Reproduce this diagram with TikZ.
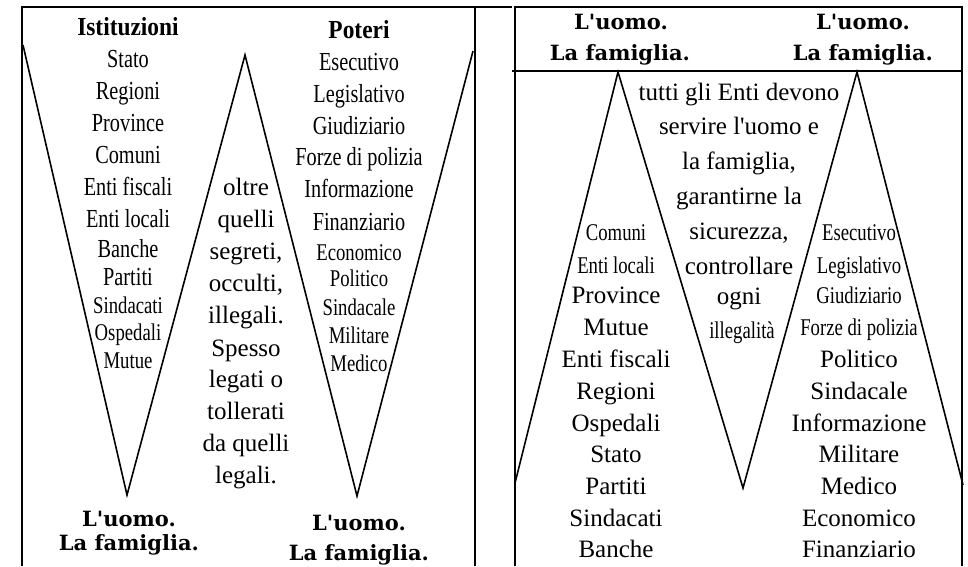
\documentclass[tikz,border=0pt]{standalone}
\usepackage{fontspec}
\setmainfont{Liberation Serif}[Ligatures=TeXOff]
\newfontfamily\condfont[FakeStretch=0.78]{Liberation Serif}
\newfontfamily\titlefont[FakeStretch=0.9]{Liberation Serif}
\newfontfamily\headfont{DejaVu Serif}
\usetikzlibrary{calc}

\tikzset{
	cond/.style={font=\condfont\fontsize{26}{26}\selectfont, inner sep=0pt, text height=17pt, text depth=0pt},
	condsmall/.style={font=\condfont\fontsize{24}{24}\selectfont, inner sep=0pt, text height=16pt, text depth=0pt},
	txt/.style={font=\fontsize{25}{25}\selectfont, inner sep=0pt, text height=16pt, text depth=0pt},
	title/.style={font=\titlefont\bfseries\fontsize{26}{26}\selectfont, inner sep=0pt, text height=17pt, text depth=0pt},
	head/.style={font=\headfont\bfseries\fontsize{21}{21}\selectfont, inner sep=0pt, text height=15pt, text depth=0pt},
	frame/.style={line width=1.8pt},
	zigzag/.style={line width=1.6pt, line join=miter},
}

\begin{document}
\begin{tikzpicture}[x=1pt, y=-1pt]
	\useasboundingbox (0,0) rectangle (968,566);

	% left panel
	\draw[frame] (22,566) -- (22,7) -- (512,7);
	\draw[frame] (475,7) -- (475,566);

	\coordinate (l1) at (23,45);
	\coordinate (l2) at (127,495);
	\coordinate (l3) at (245,55);
	\coordinate (l4) at (357,496);
	\coordinate (l5) at (473,51);
	\draw[zigzag] (l1) -- (l2) -- (l3) -- (l4) -- (l5);

	\node[title] (istituzioni) at (128,27) {Istituzioni};
	\node[cond] (istA) at (128,59) {Stato};
	\node[cond] (istB) at (128,91) {Regioni};
	\node[cond] (istC) at (128,123) {Province};
	\node[cond] (istD) at (128,155) {Comuni};
	\node[cond] (istE) at (128,187) {Enti fiscali};
	\node[cond] (istF) at (128,219) {Enti locali};
	\node[cond] (istG) at (128,249) {Banche};
	\node[cond] (istH) at (128,277) {Partiti};
	\node[condsmall] (istI) at (128,305) {Sindacati};
	\node[condsmall] (istJ) at (128,332) {Ospedali};
	\node[condsmall] (istK) at (128,360) {Mutue};

	\node[title] (poteri) at (359,30) {Poteri};
	\node[cond] (potA) at (359,62) {Esecutivo};
	\node[cond] (potB) at (359,94) {Legislativo};
	\node[cond] (potC) at (359,126) {Giudiziario};
	\node[cond] (potD) at (359,157) {Forze di polizia};
	\node[cond] (potE) at (359,189) {Informazione};
	\node[cond] (potF) at (359,222) {Finanziario};
	\node[condsmall] (potG) at (359,252) {Economico};
	\node[condsmall] (potH) at (359,278) {Politico};
	\node[condsmall] (potI) at (359,307) {Sindacale};
	\node[condsmall] (potJ) at (359,335) {Militare};
	\node[condsmall] (potK) at (359,363) {Medico};

	\node[txt] (oltA) at (246,187) {oltre};
	\node[txt] (oltB) at (246,219) {quelli};
	\node[txt] (oltC) at (246,251) {segreti,};
	\node[txt] (oltD) at (246,283) {occulti,};
	\node[txt] (oltE) at (246,315) {illegali.};
	\node[txt] (oltF) at (246,348) {Spesso};
	\node[txt] (oltG) at (246,379) {legati o};
	\node[txt] (oltH) at (246,411) {tollerati};
	\node[txt] (oltI) at (246,443) {da quelli};
	\node[txt] (oltJ) at (246,475) {legali.};

	\node[head] (uomoA) at (129,519) {L'uomo.};
	\node[head] (famA) at (129,543) {La famiglia.};
	\node[head] (uomoB) at (359,523) {L'uomo.};
	\node[head] (famB) at (359,553) {La famiglia.};

	% right panel
	\draw[frame] (515,566) -- (515,7) -- (962,7) -- (962,566);
	\draw[frame] (512,71) -- (962,71);

	\coordinate (r1) at (515,483);
	\coordinate (r2) at (618,72);
	\coordinate (r3) at (743,488);
	\coordinate (r4) at (857,72);
	\coordinate (r5) at (963,485);
	\draw[zigzag] (r1) -- (r2) -- (r3) -- (r4) -- (r5);

	\node[head] (uomoC) at (621,22) {L'uomo.};
	\node[head] (famC) at (620,53) {La famiglia.};
	\node[head] (uomoD) at (863,22) {L'uomo.};
	\node[head] (famD) at (863,53) {La famiglia.};

	\node[txt] (entA) at (739,92) {tutti gli Enti devono};
	\node[txt] (entB) at (739,126) {servire l'uomo e};
	\node[txt] (entC) at (739,161) {la famiglia,};
	\node[txt] (entD) at (739,196) {garantirne la};
	\node[txt] (entE) at (739,231) {sicurezza,};
	\node[txt] (entF) at (739,266) {controllare};
	\node[txt] (entG) at (739,296) {ogni};
	\node[condsmall] (entH) at (742,330) {illegalità};

	\node[condsmall] (comA) at (616,232) {Comuni};
	\node[condsmall] (comB) at (616,265) {Enti locali};
	\node[txt] (comC) at (616,295) {Province};
	\node[txt] (comD) at (616,327) {Mutue};
	\node[txt] (comE) at (616,359) {Enti fiscali};
	\node[txt] (comF) at (616,391) {Regioni};
	\node[txt] (comG) at (616,423) {Ospedali};
	\node[txt] (comH) at (616,454) {Stato};
	\node[txt] (comI) at (616,486) {Partiti};
	\node[txt] (comJ) at (616,518) {Sindacati};
	\node[txt] (comK) at (616,549) {Banche};

	\node[condsmall] (eseA) at (859,232) {Esecutivo};
	\node[condsmall] (eseB) at (859,265) {Legislativo};
	\node[condsmall] (eseC) at (859,295) {Giudiziario};
	\node[condsmall] (eseD) at (859,327) {Forze di polizia};
	\node[txt] (eseE) at (859,359) {Politico};
	\node[txt] (eseF) at (859,391) {Sindacale};
	\node[txt] (eseG) at (859,423) {Informazione};
	\node[txt] (eseH) at (859,454) {Militare};
	\node[txt] (eseI) at (859,486) {Medico};
	\node[txt] (eseJ) at (859,518) {Economico};
	\node[txt] (eseK) at (859,549) {Finanziario};
\end{tikzpicture}
\end{document}
